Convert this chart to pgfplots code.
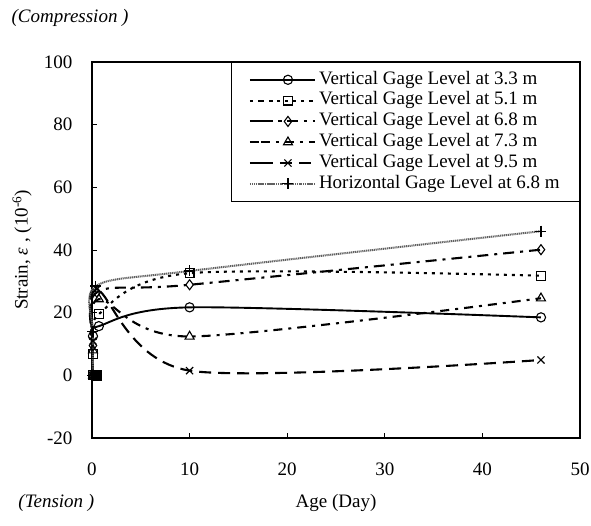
\documentclass[border=0pt]{standalone}
\usepackage{fontspec}
\setmainfont{Liberation Serif}
\usepackage{pgfplots}
\pgfplotsset{compat=1.18}

\begin{document}
\begin{tikzpicture}[font=\fontsize{19}{22}\selectfont]
% overall page frame, measured from the lower left corner of the plot area
\useasboundingbox (-92pt,-87pt) rectangle (499pt,438pt);
\begin{axis}[
  name=ax, at={(0pt,0pt)}, anchor=south west,
  scale only axis, width=488pt, height=376pt,
  xmin=0, xmax=50, ymin=-20, ymax=100,
  xtick={0,10,20,30,40,50}, xticklabels={0,10,20,30,40,50},
  ytick={-20,0,20,40,60,80,100}, yticklabels={-20,0,20,40,60,80,100},
  xtick pos=bottom, ytick pos=left, tick align=inside,
  major tick length=5pt,
  axis line style={line width=1.1pt},
  every tick/.style={black, line width=0.8pt},
  tick label style={font=\fontsize{19}{22}\selectfont},
  xticklabel style={yshift=-21pt},
  yticklabel style={xshift=-16pt},
  label style={font=\fontsize{19}{22}\selectfont},
  xlabel={Age (Day)},
  ylabel={Strain, {\itshape ε} , (10\textsuperscript{-6})},
  xlabel style={at={(axis description cs:0.5,-0.173)}, anchor=center},
  ylabel style={at={(axis description cs:-0.143,0.5)}, anchor=center},
  clip=false,
  legend cell align=left,
  legend style={at={(1,1)}, anchor=north east, draw=black, line width=0.8pt,
    fill=white, inner xsep=18pt, inner ysep=7pt, row sep=0pt, column sep=1pt,
    font=\fontsize{19}{22}\selectfont,
    nodes={inner xsep=2pt, inner ysep=1.6pt, text height=13pt, text depth=4.6pt}},
  legend image code/.code={%
    \path (-11pt,0pt) -- (0pt,0pt);
    \draw[mark repeat=2,mark phase=2] plot coordinates {(0pt,0pt) (27pt,0pt) (54pt,0pt)};},
]
% Vertical gage, 3.3 m
\addplot[black, line width=1.9pt, smooth, mark=o, mark size=4.6pt,
  mark options={solid, fill=white, line width=1.1pt}]
  coordinates {(0.1,0) (0.1,12.5) (0.7,15.7) (10,21.7) (46,18.5)};
\addlegendentry{Vertical Gage Level at 3.3 m}
% Vertical gage, 5.1 m
\addplot[black, line width=2.1pt, smooth, dash pattern=on 3pt off 5pt,
  mark=square, mark size=4.4pt,
  mark options={solid, fill=white, line width=1.1pt}]
  coordinates {(0.1,0) (0.1,6.7) (0.7,19.5) (10,32.6) (46,31.8)};
\addlegendentry{Vertical Gage Level at 5.1 m}
% Vertical gage, 6.8 m
\addplot[black, line width=2.1pt, smooth, dash pattern=on 11pt off 6pt on 3pt off 6pt,
  mark=diamond, mark size=5pt,
  mark options={solid, fill=white, line width=1.1pt}]
  coordinates {(0.1,0) (0.1,9.5) (0.5,26.5) (10,28.9) (46,40.1)};
\addlegendentry{Vertical Gage Level at 6.8 m}
% Vertical gage, 7.3 m
\addplot[black, line width=2.1pt, smooth, dash pattern=on 9pt off 6pt on 3pt off 6pt,
  mark=triangle, mark size=5.2pt,
  mark options={solid, fill=white, line width=1.1pt}]
  coordinates {(0.1,0) (0.1,8) (0.7,24.3) (10,12.4) (46,24.6)};
\addlegendentry{Vertical Gage Level at 7.3 m}
% Vertical gage, 9.5 m
\addplot[black, line width=2.1pt, smooth, dash pattern=on 12pt off 7pt,
  mark=x, mark size=5pt,
  mark options={solid, line width=1.1pt}]
  coordinates {(0.1,0) (0.1,11) (0.5,27.5) (10,1.5) (46,4.9)};
\addlegendentry{Vertical Gage Level at 9.5 m}
% Horizontal gage, 6.8 m
\addplot[black!62, line width=2pt, smooth, dash pattern=on 1.2pt off 0.7pt,
  mark=+, mark size=5.5pt,
  mark options={solid, black, line width=1.1pt}]
  coordinates {(0.1,0) (0.1,14) (0.4,28.5) (10,33.3) (46,46)};
\addlegendentry{Horizontal Gage Level at 6.8 m}
% common starting reading
\addplot[only marks, black, mark=square*, mark size=5pt, forget plot]
  coordinates {(0.4,0)};
\node[anchor=west, font=\fontsize{19}{22}\selectfont\itshape]
  at (axis description cs:-0.172,1.117) {(Compression )};
\node[anchor=west, font=\fontsize{19}{22}\selectfont\itshape]
  at (axis description cs:-0.158,-0.173) {(Tension )};
\end{axis}
\end{tikzpicture}
\end{document}
